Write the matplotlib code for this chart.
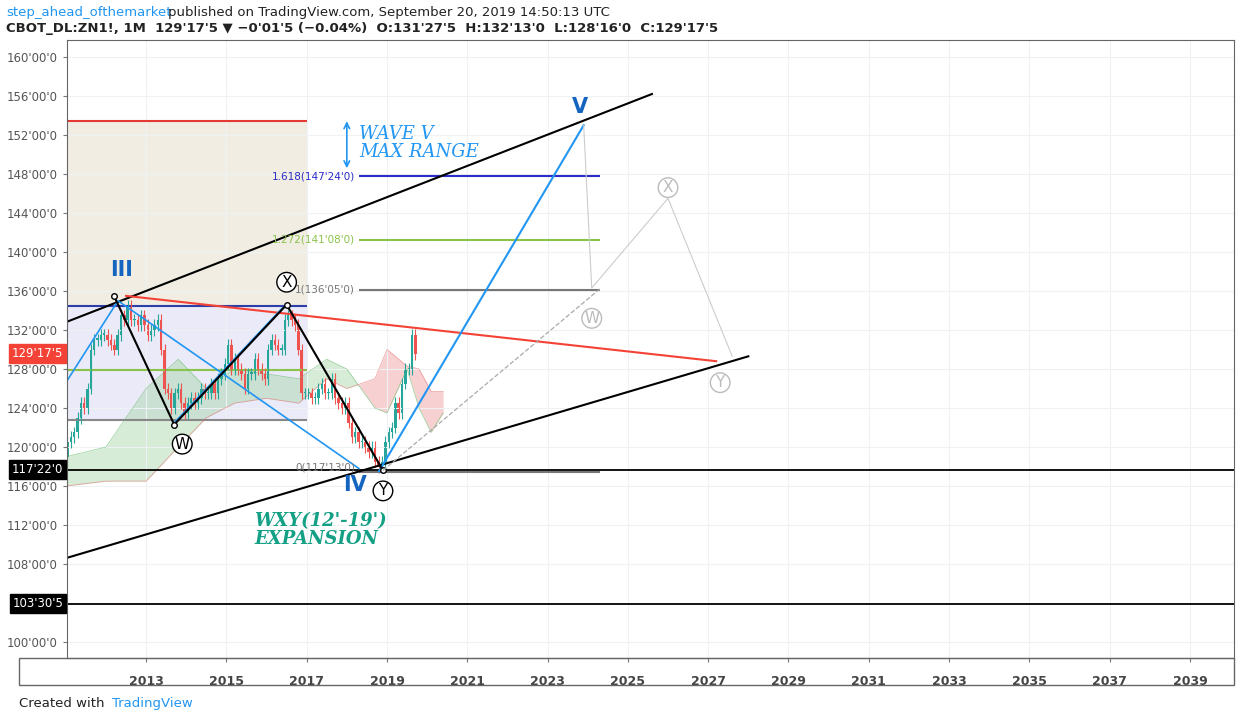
import numpy as np
import matplotlib
matplotlib.use("Agg")
import matplotlib.pyplot as plt
from matplotlib.patches import Rectangle

closes = [120.5,121,121.5,123,124.5,124,126,130,131,131,131.5,131.5,
          131,130.5,130,131.5,133.5,133,134.5,133,133,132.5,133.5,132.5,
          131.5,132,132.5,133,130,126,125.5,124,125.5,126,124.5,123.5,
          124.5,125,124.5,125,126,125.5,125.5,126.5,125.5,127,127.5,128.5,
          130.5,128,129,128,127.5,126,127.5,127.5,129,128,127.5,127,
          130,131,130.5,130,130,133,133.5,133,132.5,130,125.5,125.5,
          125.5,125,125,126,126.5,125.5,125.5,127,125,124.5,124,124.5,
          122.5,121,121.5,120.5,120.5,120,119.5,120,118.5,117.9,118.5,120.5,
          121.5,122,124.5,123.5,126.5,128,128,131.5,129.5]
first_open = 119.0
cloud_x = [2011.0,2012.0,2013.0,2013.8,2014.5,2015.2,2016.0,2016.8,2017.5,2018.0,2018.7,2019.0,2019.5,2019.8,2020.1,2020.4]
span_a  = [119,120,126,129,126,128,127.5,127,129,128,124,123.5,128,124,121.5,123.5]
span_b  = [116,116.5,116.5,120,123,124.5,125,124.5,127,126,127,130,128.3,128,125.7,125.7]
yticks = list(range(100, 161, 4))
xticks = list(range(2013, 2040, 2))

fig = plt.figure(figsize=(12.41, 7.22), dpi=100)
ax = fig.add_axes([0.054, 0.0886, 0.9404, 0.856])
ax.set_xlim(2011.03, 2040.1)
ax.set_ylim(98.36, 161.74)
ax.set_yticks(yticks)
ax.set_yticklabels(["" if v == 104 else f"{v}'00'0" for v in yticks], fontsize=8.5, color="#555")
ax.set_xticks(xticks)
ax.set_xticklabels([str(v) for v in xticks], fontsize=9, color="#444", fontweight="bold")
ax.tick_params(axis="x", pad=9)
ax.grid(color="#eef2f4", lw=0.8)
ax.tick_params(length=3, color="#777")
for s in ax.spines.values():
    s.set_color("#666")
fig.add_artist(Rectangle((0.015, 0.0512), 0.9794, 0.0374, transform=fig.transFigure, fill=False, ec="#666", lw=1))

# zones
ax.add_patch(Rectangle((2011.0, 134.5), 6.0, 153.4-134.5, color="#ece6d8", alpha=0.7, lw=0))
ax.add_patch(Rectangle((2011.0, 122.8), 6.0, 134.5-122.8, color="#dcdcf4", alpha=0.6, lw=0))
ax.hlines(153.4, 2011.0, 2017.0, color="#e53935", lw=1.5)
ax.hlines(134.5, 2011.0, 2017.0, color="#2c3fa8", lw=1.5)
ax.hlines(127.9, 2011.0, 2017.0, color="#8bc34a", lw=1.5)
ax.hlines(122.8, 2011.0, 2017.0, color="#888", lw=1.5)

# cloud
cx = np.array(cloud_x); a = np.array(span_a); b = np.array(span_b)
ax.fill_between(cx, a, b, where=a >= b, interpolate=True, color="#a5d6a7", alpha=0.45, lw=0)
ax.fill_between(cx, a, b, where=a < b, interpolate=True, color="#ef9a9a", alpha=0.45, lw=0)
ax.plot(cx, a, color="#66bb6a", lw=0.6, alpha=0.6)
ax.plot(cx, b, color="#e57373", lw=0.6, alpha=0.6)

# candles
opens = [first_open] + closes[:-1]
for i, (o, c) in enumerate(zip(opens, closes)):
    x = 2011.0 + i / 12 + 1 / 24
    col = "#26a69a" if c >= o else "#ef5350"
    ax.vlines(x, min(o, c) - 0.6, max(o, c) + 0.6, color=col, lw=0.8)
    ax.add_patch(Rectangle((x - 0.03, min(o, c)), 0.06, max(abs(c - o), 0.15), color=col, lw=0))

# fib lines
ax.hlines(147.75, 2018.3, 2024.3, color="#2c2cc8", lw=1.5)
ax.hlines(141.25, 2018.3, 2024.3, color="#8bc34a", lw=1.5)
ax.hlines(136.15, 2018.3, 2024.3, color="#777", lw=1.5)
ax.hlines(117.4, 2018.3, 2024.3, color="#777", lw=1.5)
ax.text(2018.2, 147.75, "1.618(147'24'0)", fontsize=7.5, color="#2c2cc8", va="center", ha="right")
ax.text(2018.2, 141.25, "1.272(141'08'0)", fontsize=7.5, color="#8bc34a", va="center", ha="right")
ax.text(2018.2, 136.15, "1(136'05'0)", fontsize=7.5, color="#777", va="center", ha="right")
ax.text(2018.2, 117.9, "0(117'13'0)", fontsize=7.5, color="#777", va="center", ha="right")

# horizontal lines
ax.axhline(117.69, color="black", lw=1.3)
ax.axhline(103.95, color="black", lw=1.3)

# channels
ax.plot([2011.0, 2025.6], [132.8, 156.2], color="black", lw=1.5)
ax.plot([2011.0, 2028.0], [108.6, 129.3], color="black", lw=1.5)
ax.plot([2012.5, 2027.2], [135.5, 128.8], color="#f44336", lw=1.5)
ax.plot([2018.8, 2023.9], [117.5, 153.0], color="#2196f3", lw=1.5)
ax.plot([2011.0, 2012.3, 2018.3], [126.6, 135.0, 117.8], color="#2196f3", lw=1.2)
ax.plot([2013.7, 2016.4], [122.5, 134.3], color="#2196f3", lw=1.0)
ax.plot([2012.2, 2013.7, 2016.5, 2018.9], [135.5, 122.3, 134.6, 117.6], color="black", lw=1.5, marker="o", ms=4, mfc="white")
ax.plot([2018.9, 2024.3], [117.6, 136.2], color="#aaa", lw=0.9, ls="--")
ax.plot([2023.9, 2024.1, 2026.0, 2027.6], [153.0, 136.3, 145.5, 129.3], color="#ccc", lw=0.8)

# labels
ax.text(2012.4, 137.5, "III", fontsize=15, color="#1565c0", fontweight="bold", ha="center")
ax.text(2018.2, 115.5, "IV", fontsize=15, color="#1565c0", fontweight="bold", ha="center")
ax.text(2023.8, 154.3, "V", fontsize=15, color="#1565c0", fontweight="bold", ha="center")
ax.text(2018.3, 151.2, "WAVE V\nMAX RANGE", fontsize=13, color="#2196f3", style="italic", family="DejaVu Serif", va="center", linespacing=1.0)
ax.annotate("", xy=(2018.0, 153.7), xytext=(2018.0, 148.3), arrowprops=dict(arrowstyle="<->", color="#2196f3", lw=1.2))
ax.text(2015.7, 111.5, "WXY(12'-19')\nEXPANSION", fontsize=13, color="#14a085", style="italic", fontweight="bold", family="DejaVu Serif", va="center", linespacing=1.0)
for (x, y, t, c) in [(2013.9, 120.3, "W", "black"), (2016.5, 136.9, "X", "black"), (2018.9, 115.5, "Y", "black"),
                     (2024.1, 133.2, "W", "#bbb"), (2026.0, 146.6, "X", "#bbb"), (2027.3, 126.6, "Y", "#bbb")]:
    ax.text(x, y, t, fontsize=11, color=c, ha="center", va="center",
            bbox=dict(boxstyle="circle,pad=0.15", fc="white", ec=c, lw=1))

# price labels
for y, t, c in [(129.55, "129'17'5", "#f44336"), (117.69, "117'22'0", "black"), (103.95, "103'30'5", "black")]:
    ax.text(-0.003, y, t, transform=ax.get_yaxis_transform(), ha="right", va="center", fontsize=8.5, color="white",
            bbox=dict(boxstyle="square,pad=0.25", fc=c, ec=c))

fig.text(0.005, 0.982, "step_ahead_ofthemarket", fontsize=9.5, color="#2196f3", va="center")
fig.text(0.135, 0.982, "published on TradingView.com, September 20, 2019 14:50:13 UTC", fontsize=9.5, color="#222", va="center")
fig.text(0.005, 0.96, "CBOT_DL:ZN1!, 1M  129'17'5 ▼ −0'01'5 (−0.04%)  O:131'27'5  H:132'13'0  L:128'16'0  C:129'17'5",
         fontsize=9.5, color="#222", va="center", fontweight="bold")
fig.text(0.015, 0.025, "Created with", fontsize=9.5, color="#222", va="center")
fig.text(0.09, 0.025, "TradingView", fontsize=9.5, color="#2196f3", va="center")
fig.savefig("out.png", dpi=100)
